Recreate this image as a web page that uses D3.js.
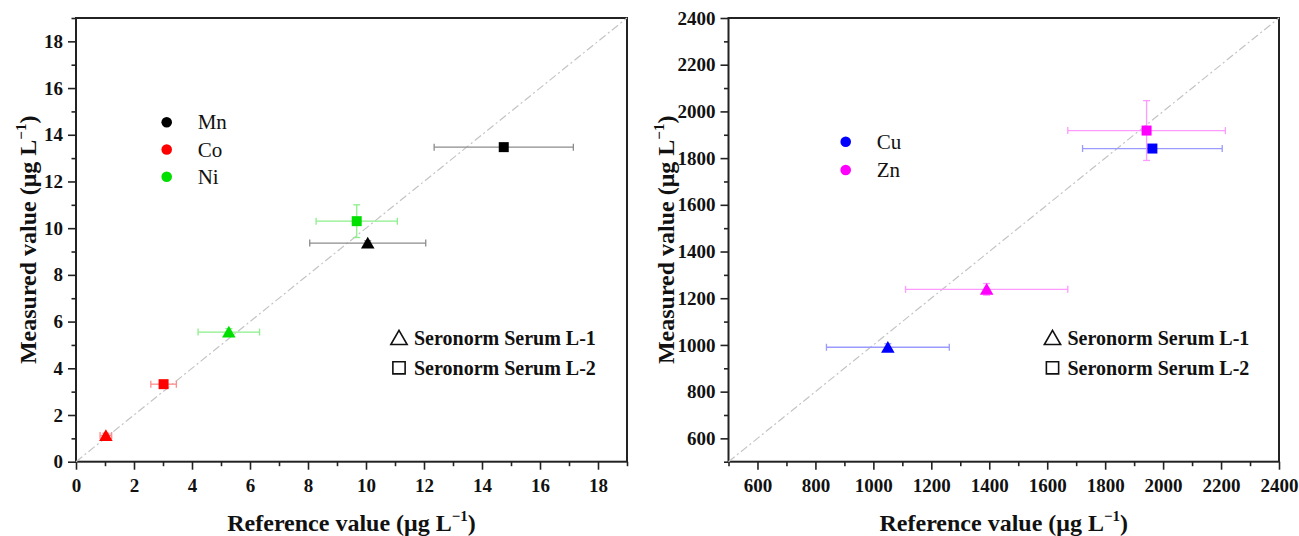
<!DOCTYPE html>
<html><head><meta charset="utf-8">
<script src="https://cdn.jsdelivr.net/npm/d3@7"></script>
<style>
body{margin:0;background:#fff;}
svg{display:block;}
</style></head>
<body><svg id="c" width="1299" height="536"></svg>
<script>
// ---- data ----
const leftElements = ["Mn","Co","Ni"];
const leftColors = ["#000000","#ff0000","#00e000"];
const leftErrColors = ["#8c8c8c","#ff8c8c","#8cef8c"];
// sample: 0 = Seronorm Serum L-1 (triangle), 1 = Seronorm Serum L-2 (square)
const leftPoints = [
  {el:"Mn", sample:0, ref:10.06, meas:9.36, refErr:2.0, measErr:0.1},
  {el:"Mn", sample:1, ref:14.75, meas:13.47, refErr:2.4, measErr:0.1},
  {el:"Co", sample:0, ref:1.03, meas:1.12, refErr:0.2, measErr:0.1},
  {el:"Co", sample:1, ref:3.02, meas:3.32, refErr:0.44, measErr:0.1},
  {el:"Ni", sample:0, ref:5.27, meas:5.55, refErr:1.06, measErr:0.15},
  {el:"Ni", sample:1, ref:9.68, meas:10.3, refErr:1.4, measErr:0.7}
];
const rightElements = ["Cu","Zn"];
const rightColors = ["#0000ff","#ff00ff"];
const rightErrColors = ["#9a9aff","#ff9aff"];
const rightPoints = [
  {el:"Cu", sample:0, ref:1050, meas:990, refErr:212, measErr:15},
  {el:"Cu", sample:1, ref:1963, meas:1841, refErr:241, measErr:10},
  {el:"Zn", sample:0, ref:1391, meas:1238, refErr:280, measErr:25},
  {el:"Zn", sample:1, ref:1943, meas:1918, refErr:272, measErr:128}
];
const sampleNames = ["Seronorm Serum L-1","Seronorm Serum L-2"];
const leftTicks = [0,2,4,6,8,10,12,14,16,18];
const leftMinor = [1,3,5,7,9,11,13,15,17,19];
const rightTicks = [600,800,1000,1200,1400,1600,1800,2000,2200,2400];
const rightMinor = [500,700,900,1100,1300,1500,1700,1900,2100,2300];

const svg = d3.select("#c");
const FONT = "'Liberation Serif','Times New Roman',serif";

function panel(cfg){
  const g = svg.append("g");
  const x = d3.scaleLinear().domain(cfg.domain).range([cfg.x0, cfg.x1]);
  const y = d3.scaleLinear().domain(cfg.domain).range([cfg.y1, cfg.y0]);
  const fmt = d3.format("d");
  // minor ticks
  g.append("g").attr("transform",`translate(0,${cfg.y1})`)
    .call(d3.axisBottom(x).tickValues(cfg.minor).tickSize(4.5).tickFormat(""));
  g.append("g").attr("transform",`translate(${cfg.x0},0)`)
    .call(d3.axisLeft(y).tickValues(cfg.minor).tickSize(4.5).tickFormat(""));
  // major
  g.append("g").attr("class","ax").attr("transform",`translate(0,${cfg.y1})`)
    .call(d3.axisBottom(x).tickValues(cfg.ticks).tickSize(8).tickPadding(9).tickFormat(fmt));
  g.append("g").attr("class","ax").attr("transform",`translate(${cfg.x0},0)`)
    .call(d3.axisLeft(y).tickValues(cfg.ticks).tickSize(8).tickPadding(5).tickFormat(fmt));
  g.selectAll(".domain").remove();
  g.selectAll(".tick line").attr("stroke","#222").attr("stroke-width",1.6);
  g.selectAll(".ax text").attr("font-family",FONT).attr("font-weight","bold")
    .attr("font-size",19).attr("fill","#111");
  // frame
  g.append("rect").attr("x",cfg.x0).attr("y",cfg.y0)
    .attr("width",cfg.x1-cfg.x0).attr("height",cfg.y1-cfg.y0)
    .attr("fill","none").attr("stroke","#222").attr("stroke-width",2);
  // diagonal
  g.append("line").attr("x1",x(cfg.domain[0])).attr("y1",y(cfg.domain[0]))
    .attr("x2",x(cfg.domain[1])).attr("y2",y(cfg.domain[1]))
    .attr("stroke","#c4c4c4").attr("stroke-width",1.2).attr("stroke-dasharray","8,3,2,3");
  // error bars
  const cap = 3.5;
  cfg.points.forEach(p=>{
    const i = cfg.elements.indexOf(p.el);
    const ec = cfg.errColors[i];
    const cx = x(p.ref), cy = y(p.meas);
    const eg = g.append("g").attr("stroke",ec).attr("stroke-width",1.3);
    eg.append("line").attr("x1",x(p.ref-p.refErr)).attr("x2",x(p.ref+p.refErr)).attr("y1",cy).attr("y2",cy);
    eg.append("line").attr("x1",x(p.ref-p.refErr)).attr("x2",x(p.ref-p.refErr)).attr("y1",cy-cap).attr("y2",cy+cap);
    eg.append("line").attr("x1",x(p.ref+p.refErr)).attr("x2",x(p.ref+p.refErr)).attr("y1",cy-cap).attr("y2",cy+cap);
    eg.append("line").attr("x1",cx).attr("x2",cx).attr("y1",y(p.meas-p.measErr)).attr("y2",y(p.meas+p.measErr));
    eg.append("line").attr("x1",cx-cap).attr("x2",cx+cap).attr("y1",y(p.meas-p.measErr)).attr("y2",y(p.meas-p.measErr));
    eg.append("line").attr("x1",cx-cap).attr("x2",cx+cap).attr("y1",y(p.meas+p.measErr)).attr("y2",y(p.meas+p.measErr));
  });
  cfg.points.forEach(p=>{
    const i = cfg.elements.indexOf(p.el);
    const sym = p.sample===0 ? d3.symbolTriangle : d3.symbolSquare;
    const size = p.sample===0 ? 80 : 100;
    const dy = p.sample===0 ? 1.5 : 0;
    g.append("path").attr("d",d3.symbol().type(sym).size(size)())
      .attr("transform",`translate(${x(p.ref)},${y(p.meas)+dy})`)
      .attr("fill",cfg.colors[i]);
  });
  // element legend
  cfg.elements.forEach((e,i)=>{
    const ly = cfg.legY + i*cfg.legDy;
    g.append("circle").attr("cx",cfg.legX).attr("cy",ly).attr("r",5.3).attr("fill",cfg.colors[i]);
    g.append("text").attr("x",cfg.legX+31).attr("y",ly+7).text(e)
      .attr("font-family",FONT).attr("font-size",21).attr("fill","#111");
  });
  // sample legend
  sampleNames.forEach((s,i)=>{
    const ly = cfg.sLegY + i*29.5;
    const sym = i===0 ? d3.symbolTriangle : d3.symbolSquare;
    g.append("path").attr("d",d3.symbol().type(sym).size(i===0?115:150)())
      .attr("transform",`translate(${cfg.sLegX},${ly+(i===0?1.5:0)})`)
      .attr("fill","none").attr("stroke","#111").attr("stroke-width",1.6);
    g.append("text").attr("x",cfg.sLegX+15).attr("y",ly+7).text(s)
      .attr("font-family",FONT).attr("font-weight","bold").attr("font-size",20).attr("fill","#111");
  });
  // axis titles
  const xt = g.append("text").attr("x",(cfg.x0+cfg.x1)/2).attr("y",531)
    .attr("text-anchor","middle").attr("font-family",FONT).attr("font-weight","bold")
    .attr("font-size",24).attr("fill","#111");
  xt.append("tspan").text("Reference value (μg L");
  xt.append("tspan").text("−1").attr("font-size",15).attr("dy",-10);
  xt.append("tspan").text(")").attr("dy",10);
  const yt = g.append("text")
    .attr("transform",`translate(${cfg.yTitleX},${(cfg.y0+cfg.y1)/2}) rotate(-90)`)
    .attr("text-anchor","middle").attr("font-family",FONT).attr("font-weight","bold")
    .attr("font-size",24).attr("fill","#111");
  yt.append("tspan").text("Measured value (μg L");
  yt.append("tspan").text("−1").attr("font-size",15).attr("dy",-10);
  yt.append("tspan").text(")").attr("dy",10);
}

panel({domain:[0,19], x0:76, x1:627, y0:18, y1:461.7,
  ticks:leftTicks, minor:leftMinor, points:leftPoints,
  elements:leftElements, colors:leftColors, errColors:leftErrColors,
  legX:166.7, legY:122.3, legDy:27.2, sLegX:399, sLegY:338.3, yTitleX:36});
panel({domain:[500,2400], x0:728.5, x1:1279, y0:18, y1:461.7,
  ticks:rightTicks, minor:rightMinor, points:rightPoints,
  elements:rightElements, colors:rightColors, errColors:rightErrColors,
  legX:845.7, legY:141.7, legDy:28.3, sLegX:1052.5, sLegY:338.3, yTitleX:674});
</script></body></html>
